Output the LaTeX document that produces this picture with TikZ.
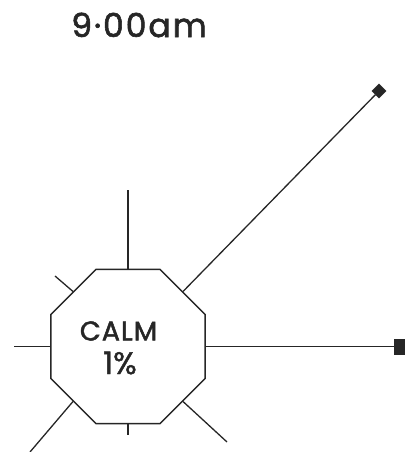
\documentclass[tikz,border=0pt]{standalone}
\usepackage{fontspec}
\setmainfont{Poppins}
\newfontfamily\timefont[FakeBold=1.8,LetterSpace=6]{Poppins}
\newfontfamily\calmfont[FakeBold=1.8,LetterSpace=4]{Poppins}
\newfontfamily\pctfont[FakeBold=1.4]{Poppins}
\usetikzlibrary{shapes.geometric}
\begin{document}
\begin{tikzpicture}[x=1pt,y=1pt,
  ln/.style={line width=1.3pt,black!85},
  endsq/.style={rectangle,fill=black!85,draw=black!85,minimum size=15pt,inner sep=0pt},
  enddia/.style={rectangle,rotate=45,fill=black!85,draw=black!85,minimum size=10pt,inner sep=0pt},
  lbl/.style={inner sep=0pt,text=black!85}]
\useasboundingbox (0,0) rectangle (404,452);
\node[regular polygon,regular polygon sides=8,draw=black!85,line width=1.3pt,minimum size=167pt,inner sep=0pt] (oct) at (128,105.5) {};
\node[lbl,font=\timefont\fontsize{33}{33}\selectfont] (time) at (139,427) {9·00am};
\node[lbl,font=\calmfont\fontsize{27}{27}\selectfont] (calm) at (118.5,121) {CALM};
\node[lbl,font=\pctfont\fontsize{31}{31}\selectfont] (pct) at (120,89) {1\%};
\node[endsq] (sq) at (402,105.5) {};
\node[enddia] (dia) at (379,361) {};
\coordinate (topend) at (128,262);
\coordinate (leftend) at (14,105.5);
\coordinate (lrend) at (227,10);
\coordinate (llend) at (30,0);
\coordinate (ulend) at (55,176);
\coordinate (botend) at (128,17);
\draw[ln] (oct.90) -- (topend);
\draw[ln] (oct.180) -- (leftend);
\draw[ln] (oct.0) -- (sq);
\draw[ln] (oct.45) -- (dia);
\draw[ln] (oct.-45) -- (lrend);
\draw[ln] (oct.-135) -- (llend);
\draw[ln] (oct.135) -- (ulend);
\draw[ln] (oct.-90) -- (botend);
\end{tikzpicture}
\end{document}
